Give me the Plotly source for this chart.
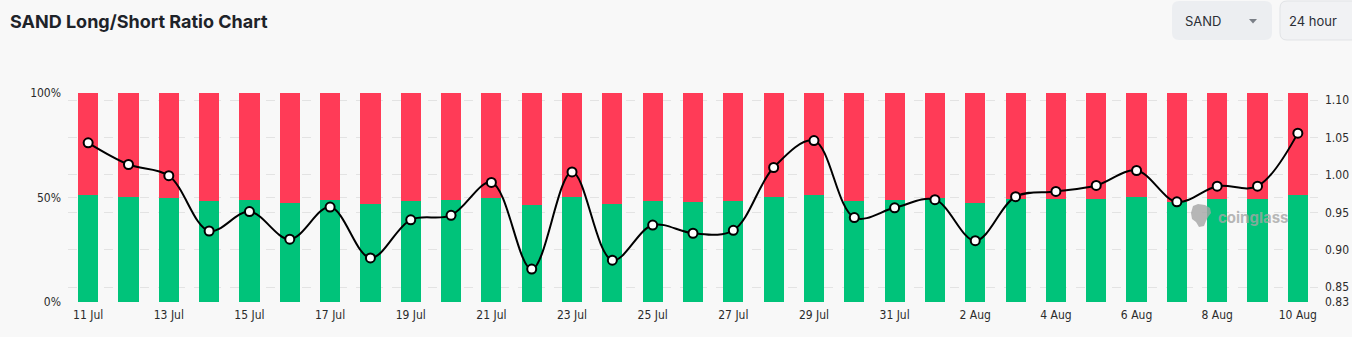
import plotly.graph_objects as go

# ---------------- data ----------------
dates = ["11 Jul", "12 Jul", "13 Jul", "14 Jul", "15 Jul", "16 Jul", "17 Jul", "18 Jul",
         "19 Jul", "20 Jul", "21 Jul", "22 Jul", "23 Jul", "24 Jul", "25 Jul", "26 Jul",
         "27 Jul", "28 Jul", "29 Jul", "30 Jul", "31 Jul", "1 Aug", "2 Aug", "3 Aug",
         "4 Aug", "5 Aug", "6 Aug", "7 Aug", "8 Aug", "9 Aug", "10 Aug"]
long_pct = [51.1, 50.2, 50.0, 48.1, 48.6, 47.6, 48.9, 47.1, 48.4, 48.6, 49.7, 46.5, 50.2,
            47.0, 48.3, 47.8, 48.1, 50.2, 51.1, 48.4, 48.9, 49.7, 47.5, 49.4, 49.4, 49.5,
            50.2, 48.0, 49.5, 49.5, 51.3]
short_pct = [48.9, 49.8, 50.0, 51.9, 51.4, 52.4, 51.1, 52.9, 51.6, 51.4, 50.3, 53.5, 49.8,
             53.0, 51.7, 52.2, 51.9, 49.8, 48.9, 51.6, 51.1, 50.3, 52.5, 50.6, 50.6, 50.5,
             49.8, 52.0, 50.5, 50.5, 48.7]
ratio = [1.043, 1.014, 0.999, 0.925, 0.951, 0.914, 0.957, 0.889, 0.940, 0.946, 0.990,
         0.874, 1.004, 0.886, 0.933, 0.922, 0.926, 1.010, 1.046, 0.943, 0.956, 0.967,
         0.912, 0.971, 0.978, 0.986, 1.006, 0.964, 0.985, 0.985, 1.056]
left_ticks = [0, 50, 100]
left_tick_text = ["0%", "50%", "100%"]
right_ticks = [0.83, 0.85, 0.90, 0.95, 1.00, 1.05, 1.10]
right_tick_text = ["0.83", "0.85", "0.90", "0.95", "1.00", "1.05", "1.10"]
x_tick_labels = dates[::2]

# ---------------- style ----------------
GREEN = "#00c37a"
RED = "#ff3b57"
BG = "#f8f8f8"
GRID = "#e3e3e3"
WM = "rgba(165,165,165,0.8)"
TICK_FONT = dict(family="Liberation Sans Narrow, DejaVu Sans Condensed, Roboto, sans-serif",
                 size=12, color="#2b2b2b")

WIDTH, HEIGHT = 1352, 337
L, R, T, B = 68, 34, 93, 35
PW, PH = WIDTH - L - R, HEIGHT - T - B


def px(x):
    return (x - L) / PW


def py(y):
    return (HEIGHT - B - y) / PH


def rounded_rect(x0, y0, x1, y1, r):
    X0, X1 = px(x0), px(x1)
    Y0, Y1 = py(y0), py(y1)  # Y0 top (larger), Y1 bottom
    rx, ry = r / PW, r / PH
    return (f"M {X0+rx},{Y0} L {X1-rx},{Y0} Q {X1},{Y0} {X1},{Y0-ry} "
            f"L {X1},{Y1+ry} Q {X1},{Y1} {X1-rx},{Y1} L {X0+rx},{Y1} "
            f"Q {X0},{Y1} {X0},{Y1+ry} L {X0},{Y0-ry} Q {X0},{Y0} {X0+rx},{Y0} Z")


def blob(points):
    return "M " + " L ".join(f"{px(x)},{py(y)}" for x, y in points) + " Z"


fig = go.Figure()
fig.add_trace(go.Bar(x=dates, y=long_pct, marker=dict(color=GREEN, line=dict(width=0)),
                     width=0.5, name="Long", yaxis="y"))
fig.add_trace(go.Bar(x=dates, y=short_pct, marker=dict(color=RED, line=dict(width=0)),
                     width=0.5, name="Short", yaxis="y"))
fig.add_trace(go.Scatter(x=dates, y=ratio, yaxis="y2", mode="lines+markers",
                         line=dict(color="#000000", width=2, shape="spline", smoothing=1),
                         marker=dict(size=9, color="#ffffff",
                                     line=dict(color="#000000", width=2)),
                         name="Long/Short Ratio", cliponaxis=False))

shapes = [
    dict(type="path", xref="paper", yref="paper", path=rounded_rect(1172, 1, 1272, 40, 7),
         fillcolor="#eceef1", line=dict(width=0), layer="above"),
    dict(type="path", xref="paper", yref="paper", path=rounded_rect(1280, 1, 1380, 40, 7),
         fillcolor="#f1f2f4", line=dict(width=1, color="#e1e3e6"), layer="above"),
    dict(type="path", xref="paper", yref="paper",
         path=f"M {px(1249)},{py(19)} L {px(1257)},{py(19)} L {px(1253)},{py(23.5)} Z",
         fillcolor="#7a7f87", line=dict(width=0), layer="above"),
    # watermark logo (rough silhouette)
    dict(type="path", xref="paper", yref="paper",
         path=blob([(1193, 206), (1198, 204), (1205, 205), (1210, 208), (1211, 213),
                    (1208, 217), (1206, 221), (1204, 226), (1199, 227), (1196, 222),
                    (1192, 219), (1191, 213)]),
         fillcolor=WM, line=dict(width=0), layer="above"),
]

annotations = [
    dict(text="<b>SAND Long/Short Ratio Chart</b>", x=px(8), y=py(21), xref="paper",
         yref="paper", xanchor="left", yanchor="middle", showarrow=False,
         font=dict(family="Inter, Roboto, sans-serif", size=18, color="#1e2329")),
    dict(text="SAND", x=px(1183), y=py(21), xref="paper", yref="paper", xanchor="left",
         yanchor="middle", showarrow=False,
         font=dict(family="Inter, Roboto, sans-serif", size=13, color="#2b2f36")),
    dict(text="24 hour", x=px(1287), y=py(21), xref="paper", yref="paper", xanchor="left",
         yanchor="middle", showarrow=False,
         font=dict(family="Inter, Roboto, sans-serif", size=13, color="#2b2f36")),
    dict(text="<b>coinglass</b>", x=px(1216), y=py(217), xref="paper", yref="paper",
         xanchor="left", yanchor="middle", showarrow=False,
         font=dict(family="Inter, Roboto, sans-serif", size=15, color=WM)),
]

fig.update_layout(
    width=WIDTH, height=HEIGHT,
    margin=dict(l=L, r=R, t=T, b=B, pad=0, autoexpand=False),
    paper_bgcolor=BG, plot_bgcolor=BG,
    barmode="stack", bargap=0.5, showlegend=False,
    shapes=shapes, annotations=annotations,
    xaxis=dict(type="category", categoryorder="array", categoryarray=dates,
               range=[-0.5, len(dates) - 0.5], tickmode="array",
               tickvals=x_tick_labels, ticktext=x_tick_labels, tickfont=TICK_FONT,
               showgrid=False, zeroline=False, showline=False, ticks="",
               ticklabelstandoff=4, automargin=False),
    yaxis=dict(range=[0, 100], tickmode="array", tickvals=left_ticks,
               ticktext=left_tick_text, tickfont=TICK_FONT, showgrid=True,
               gridcolor=GRID, griddash="dash", gridwidth=1, zeroline=False,
               showline=False, ticks="", ticklabelstandoff=6, automargin=False),
    yaxis2=dict(range=[0.83, 1.1097], overlaying="y", side="right", tickmode="array",
                tickvals=right_ticks, ticktext=right_tick_text, tickfont=TICK_FONT,
                showgrid=True, gridcolor=GRID, griddash="dash", gridwidth=1,
                zeroline=False, showline=False, ticks="", ticklabelstandoff=6,
                automargin=False),
)

fig.write_html("out.html")
